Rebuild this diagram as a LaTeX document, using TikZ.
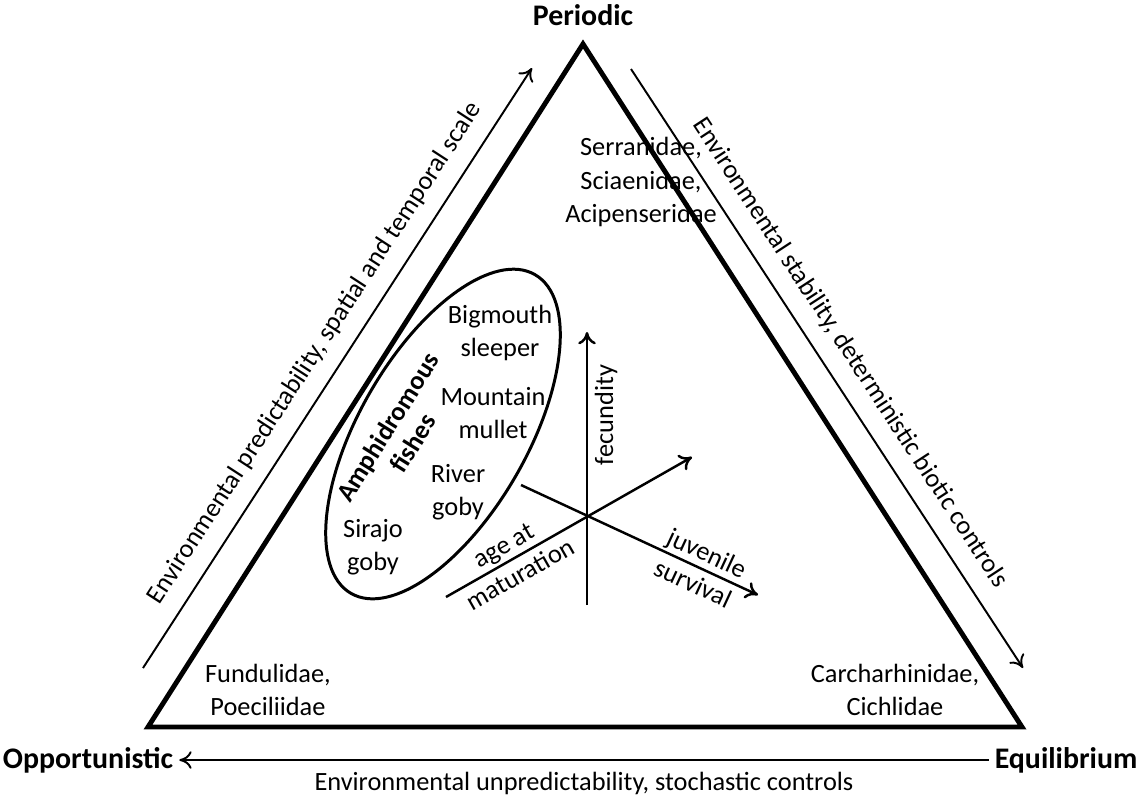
\documentclass[tikz,border=0pt]{standalone}
\usepackage{fontspec}
\setmainfont{Carlito}
\usetikzlibrary{arrows.meta,calc}

\begin{document}
\begin{tikzpicture}[x=0.02cm,y=-0.02cm,font=\fontsize{15}{19}\selectfont,>={To[length=7pt,width=10pt]}]
    \useasboundingbox (0,0) rectangle (1141,796);

    % triangle
    \coordinate (top) at (583,44);
    \coordinate (bl) at (148,727);
    \coordinate (br) at (1022,727);
    \draw[line width=2.8pt] (top) -- (bl) -- (br) -- cycle;

    % corner labels
    \node[font=\fontsize{17}{20}\selectfont\bfseries] (per) at (583,15) {Periodic};
    \node[font=\fontsize{17}{20}\selectfont\bfseries] (opp) at (88,760) {Opportunistic};
    \node[font=\fontsize{17}{20}\selectfont\bfseries] (equ) at (1066,760) {Equilibrium};

    % side arrows
    \coordinate (lA) at (143,668);
    \coordinate (lB) at (532,68);
    \draw[->, line width=1.1pt] (lA) -- (lB);
    \node[rotate=57] (lLab) at (315,353) {Environmental predictability, spatial and temporal scale};
    \coordinate (rA) at (631,69);
    \coordinate (rB) at (1023,668);
    \draw[->, line width=1.1pt] (rA) -- (rB);
    \node[rotate=-56.8] (rLab) at (850,353) {Environmental stability, deterministic biotic controls};
    \draw[->, line width=1.1pt] (equ.west) -- (opp.east) node[midway, below=3pt] {Environmental unpredictability, stochastic controls};

    % families
    \node[align=center] (ser) at (641,182) {Serranidae,\\Sciaenidae,\\Acipenseridae};
    \node[align=center] (fun) at (268,690) {Fundulidae,\\Poeciliidae};
    \node[align=center] (car) at (895,690) {Carcharhinidae,\\Cichlidae};

    % amphidromous fishes
    \draw[line width=1.7pt, rotate around={60:(443,434)}] (443,434) ellipse [x radius=184, y radius=84];
    \node[align=center, font=\fontsize{15}{17}\selectfont\bfseries, rotate=58] (amp) at (400,435) {Amphidromous\\fishes};
    \node[align=center] (big) at (500,333) {Bigmouth\\sleeper};
    \node[align=center] (mou) at (493,413) {Mountain\\mullet};
    \node[align=center] (riv) at (458,492) {River\\goby};
    \node[align=center] (sir) at (373,547) {Sirajo\\goby};

    % trait axes
    \coordinate (fB) at (587,605);
    \coordinate (fT) at (587,332);
    \coordinate (jA) at (521,485);
    \coordinate (jB) at (758,595);
    \coordinate (mA) at (446,597);
    \coordinate (mB) at (692,457);
    \draw[->, line width=1.4pt] (fB) -- (fT);
    \draw[->, line width=1.4pt] (jA) -- (jB);
    \draw[->, line width=1.4pt] (mA) -- (mB);
    \node[rotate=90] (fec) at (606,415) {fecundity};
    \node[align=center, rotate=29.6] (age) at (512,560) {age at\\maturation};
    \node[align=center, rotate=-24.9] (juv) at (700,568) {juvenile\\survival};
\end{tikzpicture}
\end{document}
